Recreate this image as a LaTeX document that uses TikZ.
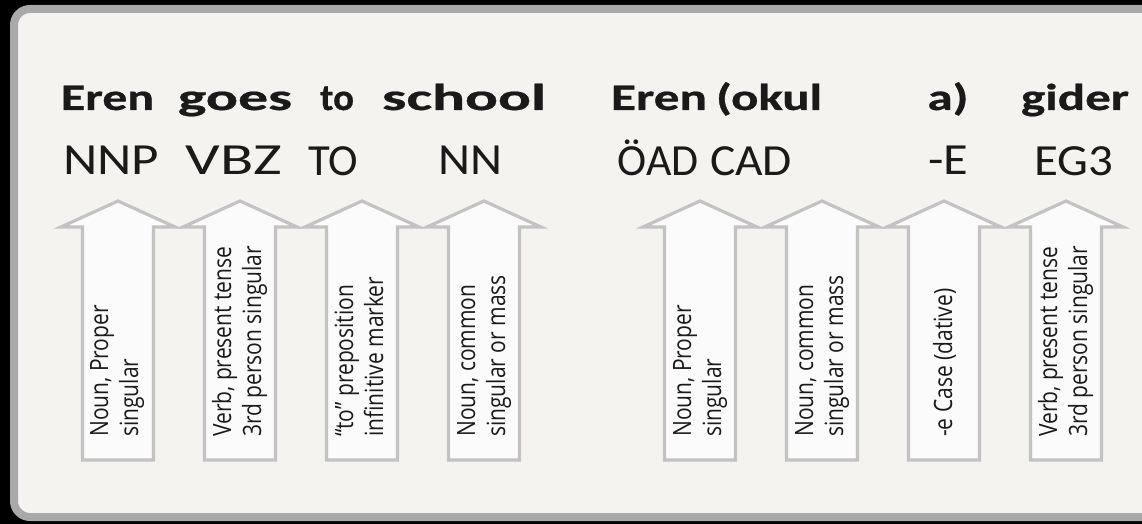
\documentclass[tikz,border=0pt]{standalone}
\usepackage{fontspec}
\usepackage{graphicx}
\setmainfont{Carlito}
\newfontfamily\headfont{Carlito}[BoldFeatures={FakeBold=0.6}]
\newfontfamily\labelfont{Open Sans}

\definecolor{panelbg}{HTML}{F4F3EF}
\definecolor{panelrim}{HTML}{A9A9A9}
\definecolor{arrowrim}{HTML}{C3C3C3}
\definecolor{arrowfill}{HTML}{FBFBFB}
\definecolor{ink}{HTML}{1A1A1A}

% text set to a given width, height unchanged
\newcommand\wideto[2]{\resizebox{#1pt}{\height}{#2}}
\newcommand\uplabel[1]{\scalebox{1.2}[1]{\rotatebox{90}{\begin{tabular}{@{}l@{}}#1\end{tabular}}}}

\tikzset{
  word/.style={anchor=base, inner sep=0pt, text=ink, font=\headfont\fontsize{37.5}{37.5}\selectfont\bfseries},
  postag/.style={anchor=base, inner sep=0pt, text=ink, font=\fontsize{44.5}{44.5}\selectfont},
  gloss/.style={anchor=south, inner sep=0pt, text=ink, font=\labelfont\fontsize{21}{25}\selectfont},
  arrowline/.style={draw=arrowrim, fill=arrowfill, line width=3.2pt, line join=miter},
  pics/blockarrow/.style={code={
    \path[arrowline] (-35.5,460) -- (-35.5,227) -- (-57,227) -- (0,201)
      -- (57,227) -- (35.5,227) -- (35.5,460) -- cycle;
  }}
}

\begin{document}
\begin{tikzpicture}[x=1pt, y=-1pt]
\useasboundingbox (0,0) rectangle (1142,524);
\fill[black] (0,0) rectangle (1142,524);
% rounded panel
\draw[panelrim, fill=panelbg, line width=8pt, rounded corners=16pt] (14,9) rectangle (1170,517);

% block arrows
\foreach \cx in {118,240,362,484,700,822,944,1066}
  \pic at (\cx,0) {blockarrow};

% English sentence
\node[word] (w1) at (107.5,110) {\wideto{93}{Eren}};
\node[word] (w2) at (235,110) {\wideto{114}{goes}};
\node[word] (w3) at (337,110) {\wideto{34}{to}};
\node[word] (w4) at (464,110) {\wideto{164}{school}};
% Turkish sentence
\node[word] (w5) at (659,110) {\wideto{96}{Eren}};
\node[word] (w6) at (769,110) {\wideto{106}{(okul}};
\node[word] (w7) at (948,110) {\wideto{41}{a)}};
\node[word] (w8) at (1075,110) {\wideto{108}{gider}};

% tags
\node[postag] (t1) at (111,175) {\wideto{96}{NNP}};
\node[postag] (t2) at (234,175) {\wideto{96}{VBZ}};
\node[postag] (t3) at (333,175) {\wideto{50}{TO}};
\node[postag] (t4) at (470,175) {\wideto{64}{NN}};
\node[postag] (t5) at (658,175) {\wideto{81}{ÖAD}};
\node[postag] (t6) at (751,175) {\wideto{82}{CAD}};
\node[postag] (t7) at (948,175) {\wideto{40}{-E}};
\node[postag] (t8) at (1074,175) {\wideto{79}{EG3}};

% glosses inside the arrows
\node[gloss] (g1) at (117,437) {\uplabel{Noun, Proper\\singular}};
\node[gloss] (g2) at (240,437) {\uplabel{Verb, present tense\\3rd person singular}};
\node[gloss] (g3) at (362,437) {\uplabel{“to” preposition\\infinitive marker}};
\node[gloss] (g4) at (484,437) {\uplabel{Noun, common\\singular or mass}};
\node[gloss] (g5) at (700,437) {\uplabel{Noun, Proper\\singular}};
\node[gloss] (g6) at (822,437) {\uplabel{Noun, common\\singular or mass}};
\node[gloss] (g7) at (946,437) {\uplabel{-e Case (dative)}};
\node[gloss] (g8) at (1066,437) {\uplabel{Verb, present tense\\3rd person singular}};
\end{tikzpicture}
\end{document}
